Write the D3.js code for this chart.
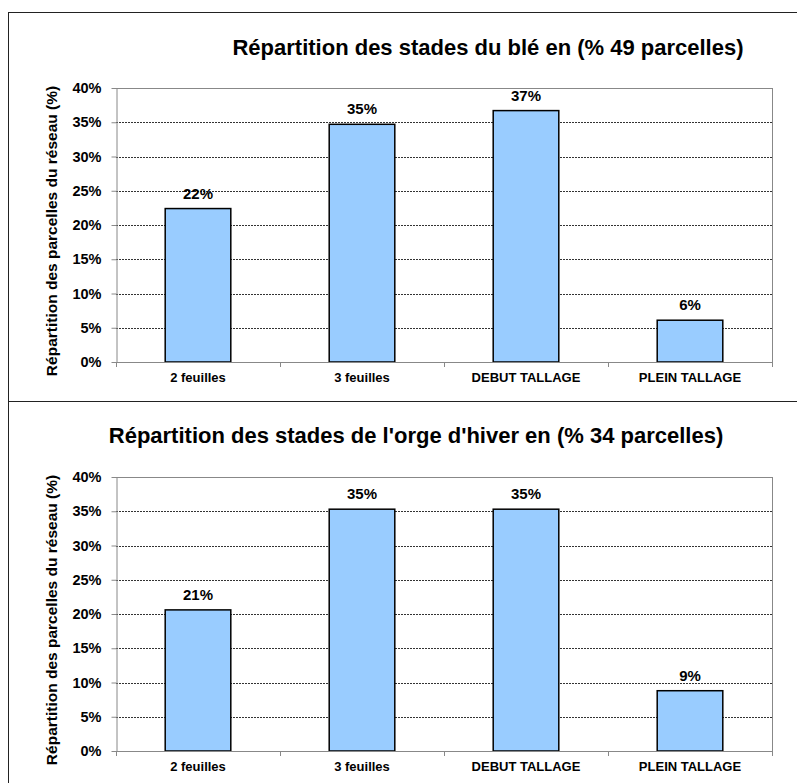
<!DOCTYPE html>
<html><head><meta charset="utf-8">
<script src="https://cdn.jsdelivr.net/npm/d3@7"></script>
<style>
html,body{margin:0;padding:0;background:#fff;}
svg{display:block;font-family:Arial,"Liberation Sans",sans-serif;}
</style></head>
<body>
<svg id="c" width="797" height="783"></svg>
<script>
const categories = ["2 feuilles", "3 feuilles", "DEBUT TALLAGE", "PLEIN TALLAGE"];
const bleValues = [0.224, 0.347, 0.367, 0.061];
const orgeValues = [0.206, 0.353, 0.353, 0.088];
const yTicks = [0, 0.05, 0.10, 0.15, 0.20, 0.25, 0.30, 0.35, 0.40];
const titles = ["Répartition des stades du blé en (% 49 parcelles)",
                "Répartition des stades de l'orge d'hiver en (% 34 parcelles)"];
const yAxisTitle = "Répartition des parcelles du réseau (%)";

const svg = d3.select("#c");

// panel frames
svg.append("rect").attr("x", 8.5).attr("y", 12.5).attr("width", 800).attr("height", 389)
  .attr("fill", "none").attr("stroke", "#222").attr("stroke-width", 1);
svg.append("rect").attr("x", 8.5).attr("y", 401.5).attr("width", 800).attr("height", 400)
  .attr("fill", "none").attr("stroke", "#222").attr("stroke-width", 1);

const panels = [
  {values: bleValues, title: titles[0], titleX: 488, titleY: 55, top: 88, bottom: 362},
  {values: orgeValues, title: titles[1], titleX: 416, titleY: 443, top: 477, bottom: 751}
];

const left = 116, right = 772;

panels.forEach(p => {
  const g = svg.append("g");
  const x = d3.scaleBand().domain(categories).range([left, right]).paddingInner(0.6).paddingOuter(0.3);
  const y = d3.scaleLinear().domain([0, 0.4]).range([p.bottom, p.top]);

  // title
  g.append("text").attr("x", p.titleX).attr("y", p.titleY).attr("text-anchor", "middle")
    .attr("font-size", 22).attr("font-weight", "bold").attr("fill", "#000").text(p.title);

  // gridlines
  g.selectAll(".grid").data(yTicks.filter(t => t > 0 && t < 0.4)).enter().append("line")
    .attr("x1", left).attr("x2", right)
    .attr("y1", d => Math.round(y(d)) + 0.5).attr("y2", d => Math.round(y(d)) + 0.5)
    .attr("stroke", "#333").attr("stroke-width", 1).attr("stroke-dasharray", "2,1");

  // plot frame top/right
  g.append("line").attr("x1", left).attr("x2", right + 0.5).attr("y1", Math.round(y(0.4)) + 0.5).attr("y2", Math.round(y(0.4)) + 0.5)
    .attr("stroke", "#888").attr("stroke-width", 1);
  g.append("line").attr("x1", right + 0.5).attr("x2", right + 0.5).attr("y1", y(0.4)).attr("y2", y(0) + 5)
    .attr("stroke", "#888").attr("stroke-width", 1);

  // bars
  g.selectAll(".bar").data(p.values).enter().append("rect")
    .attr("x", (d, i) => x(categories[i]))
    .attr("y", d => y(d))
    .attr("width", x.bandwidth())
    .attr("height", d => y(0) - y(d))
    .attr("fill", "#99CCFF").attr("stroke", "#000").attr("stroke-width", 1.5);

  // value labels
  g.selectAll(".val").data(p.values).enter().append("text")
    .attr("x", (d, i) => x(categories[i]) + x.bandwidth() / 2)
    .attr("y", d => y(d) - 10)
    .attr("text-anchor", "middle").attr("font-size", 15).attr("font-weight", "bold")
    .text(d => Math.round(d * 100) + "%");

  // y axis
  const yAxis = d3.axisLeft(y).tickValues(yTicks).tickFormat(d3.format(".0%")).tickSize(5).tickSizeOuter(0);
  const ya = g.append("g").attr("transform", `translate(${left + 0.5},0)`).call(yAxis);
  ya.select(".domain").attr("stroke", "#888");
  ya.selectAll(".tick line").attr("stroke", "#888");
  ya.selectAll(".tick text").attr("font-size", 14.5).attr("font-weight", "bold")
    .attr("font-family", "Arial, 'Liberation Sans', sans-serif").attr("fill", "#000").attr("x", -15);

  // x axis
  const step = x.step();
  const boundaries = categories.map(c => x(c) - step * x.paddingInner() / 2).concat([right]);
  g.append("line").attr("x1", left).attr("x2", right + 0.5).attr("y1", Math.round(y(0)) + 0.5).attr("y2", Math.round(y(0)) + 0.5)
    .attr("stroke", "#888").attr("stroke-width", 1);
  g.selectAll(".xt").data(boundaries).enter().append("line")
    .attr("x1", d => Math.round(d) + 0.5).attr("x2", d => Math.round(d) + 0.5)
    .attr("y1", y(0)).attr("y2", y(0) + 5).attr("stroke", "#888");
  g.selectAll(".xl").data(categories).enter().append("text")
    .attr("x", d => x(d) + x.bandwidth() / 2).attr("y", y(0) + 20)
    .attr("text-anchor", "middle").attr("font-size", 13).attr("font-weight", "bold").text(d => d);

  // y axis title
  const cy = (p.top + p.bottom) / 2 + 6;
  g.append("text").attr("transform", `translate(57,${cy}) rotate(-90)`)
    .attr("text-anchor", "middle").attr("font-size", 15.5).attr("font-weight", "bold").text(yAxisTitle);
});
</script>
</body></html>
